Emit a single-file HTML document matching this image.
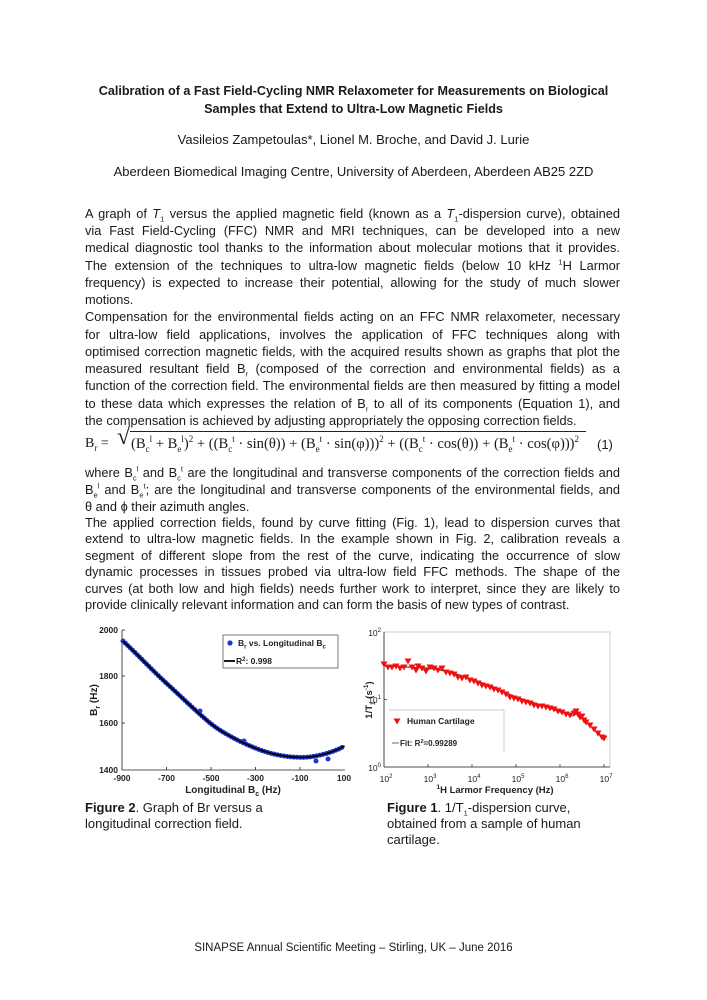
<!DOCTYPE html>
<html><head><meta charset="utf-8">
<style>
body{margin:0;background:#fff;}
#pg{position:relative;width:707px;height:1000px;overflow:hidden;font-family:"Liberation Sans",Arial,sans-serif;color:#1a1a1a;}
.c{position:absolute;left:0;width:707px;text-align:center;}
.t{font-weight:bold;font-size:12.6px;}
.l{position:absolute;left:85px;width:535px;font-size:12.8px;white-space:nowrap;line-height:16px;}
.j{text-align:justify;text-align-last:justify;white-space:normal;}
sub,sup{font-size:7.5px;line-height:0;}
.cap{position:absolute;font-size:13px;line-height:16px;}
.eq sub,.eq sup{font-size:9px;}
</style></head><body><div id="pg">
<div class="c t" style="top:84px">Calibration of a Fast Field-Cycling NMR Relaxometer for Measurements on Biological</div>
<div class="c t" style="top:102px">Samples that Extend to Ultra-Low Magnetic Fields</div>
<div class="c" style="top:132px;font-size:13px">Vasileios Zampetoulas*, Lionel M. Broche, and David J. Lurie</div>
<div class="c" style="top:164px;font-size:13px">Aberdeen Biomedical Imaging Centre, University of Aberdeen, Aberdeen AB25 2ZD</div>

<div class="l j" style="top:206px">A graph of <i>T</i><sub>1</sub> versus the applied magnetic field (known as a <i>T</i><sub>1</sub>-dispersion curve), obtained</div>
<div class="l j" style="top:223px">via Fast Field-Cycling (FFC) NMR and MRI techniques, can be developed into a new</div>
<div class="l j" style="top:240px">medical diagnostic tool thanks to the information about molecular motions that it provides.</div>
<div class="l j" style="top:258px">The extension of the techniques to ultra-low magnetic fields (below 10 kHz <sup>1</sup>H Larmor</div>
<div class="l j" style="top:275px">frequency) is expected to increase their potential, allowing for the study of much slower</div>
<div class="l" style="top:292px">motions.</div>
<div class="l j" style="top:309px">Compensation for the environmental fields acting on an FFC NMR relaxometer, necessary</div>
<div class="l j" style="top:327px">for ultra-low field applications, involves the application of FFC techniques along with</div>
<div class="l j" style="top:344px">optimised correction magnetic fields, with the acquired results shown as graphs that plot the</div>
<div class="l j" style="top:361px">measured resultant field B<sub>r</sub> (composed of the correction and environmental fields) as a</div>
<div class="l j" style="top:378px">function of the correction field. The environmental fields are then measured by fitting a model</div>
<div class="l j" style="top:396px">to these data which expresses the relation of B<sub>r</sub> to all of its components (Equation 1), and</div>
<div class="l" style="top:413px">the compensation is achieved by adjusting appropriately the opposing correction fields.</div>

<div class="eq" style="position:absolute;left:85px;top:436px;font-family:'Liberation Serif',serif;font-size:14px;white-space:nowrap;">B<sub>r</sub> =</div>
<div style="position:absolute;left:117px;top:424px;font-family:'Liberation Serif',serif;font-size:24px;">√</div>
<div style="position:absolute;left:130px;top:431px;width:456px;border-top:1px solid #222;"></div>
<div class="eq" style="position:absolute;left:131px;top:436px;font-family:'Liberation Serif',serif;font-size:14.6px;white-space:nowrap;">(B<sub>c</sub><sup>l</sup> + B<sub>e</sub><sup>l</sup>)<sup>2</sup> + ((B<sub>c</sub><sup>t</sup> · sin(θ)) + (B<sub>e</sub><sup>t</sup> · sin(φ)))<sup>2</sup> + ((B<sub>c</sub><sup>t</sup> · cos(θ)) + (B<sub>e</sub><sup>t</sup> · cos(φ)))<sup>2</sup></div>
<div style="position:absolute;left:597px;top:437px;font-size:13px;">(1)</div>

<div class="l j" style="top:465px">where B<sub>c</sub><sup>l</sup> and B<sub>c</sub><sup>t</sup> are the longitudinal and transverse components of the correction fields and</div>
<div class="l j" style="top:482px">B<sub>e</sub><sup>l</sup> and B<sub>e</sub><sup>t</sup>; are the longitudinal and transverse components of the environmental fields, and</div>
<div class="l" style="top:499px">θ and ϕ their azimuth angles.</div>
<div class="l j" style="top:515px">The applied correction fields, found by curve fitting (Fig. 1), lead to dispersion curves that</div>
<div class="l j" style="top:531px">extend to ultra-low magnetic fields. In the example shown in Fig. 2, calibration reveals a</div>
<div class="l j" style="top:548px">segment of different slope from the rest of the curve, indicating the occurrence of slow</div>
<div class="l j" style="top:564px">dynamic processes in tissues probed via ultra-low field FFC methods. The shape of the</div>
<div class="l j" style="top:581px">curves (at both low and high fields) needs further work to interpret, since they are likely to</div>
<div class="l" style="top:597px">provide clinically relevant information and can form the basis of new types of contrast.</div>

<svg width="707" height="1000" style="position:absolute;left:0;top:0" font-family="Liberation Sans, Arial, sans-serif" font-weight="bold" font-size="8.5">
<defs>
<marker id="tri" markerWidth="8" markerHeight="8" refX="4" refY="4" markerUnits="userSpaceOnUse"><path d="M0.5,1.5 L7.5,1.5 L4,7.5 Z" fill="#f01010"/></marker>
</defs>
<!-- Chart 1 -->
<line x1="122" y1="630" x2="122" y2="770" stroke="#222" stroke-width="0.8"/>
<line x1="122" y1="770" x2="345" y2="770" stroke="#222" stroke-width="0.8"/>
<g stroke="#222" stroke-width="0.8">
<line x1="122" y1="630" x2="125" y2="630"/><line x1="122" y1="676" x2="125" y2="676"/><line x1="122" y1="723" x2="125" y2="723"/>
<line x1="166.5" y1="770" x2="166.5" y2="767"/><line x1="211" y1="770" x2="211" y2="767"/><line x1="255.5" y1="770" x2="255.5" y2="767"/><line x1="300" y1="770" x2="300" y2="767"/>
</g>
<g text-anchor="end" fill="#222"><text x="118" y="633">2000</text><text x="118" y="679">1800</text><text x="118" y="726">1600</text><text x="118" y="773">1400</text></g>
<g text-anchor="middle" fill="#222"><text x="122" y="781">-900</text><text x="166.5" y="781">-700</text><text x="211" y="781">-500</text><text x="255.5" y="781">-300</text><text x="300" y="781">-100</text><text x="344" y="781">100</text></g>
<text x="233" y="793" text-anchor="middle" font-size="10" fill="#222">Longitudinal B<tspan font-size="7" dy="3">c</tspan><tspan dy="-3"> (Hz)</tspan></text>
<text transform="translate(97,700) rotate(-90)" text-anchor="middle" font-size="10" fill="#222">B<tspan font-size="7" dy="3">r</tspan><tspan dy="-3"> (Hz)</tspan></text>
<path d="M123,641 C137,654 152,670 166.5,683.3 S200,715 211,723.8 S240,742 255.5,748.2 S285,757 300,757.4 S335,752 344.5,745.9" fill="none" stroke="#1f35d0" stroke-width="5" stroke-linecap="round" stroke-dasharray="0 3.3"/>
<circle cx="316" cy="761" r="2.5" fill="#1f35d0"/><circle cx="328" cy="759" r="2.5" fill="#1f35d0"/><circle cx="244" cy="741" r="2.5" fill="#1f35d0"/><circle cx="200" cy="711" r="2.5" fill="#1f35d0"/>
<path d="M123,641 C137,654 152,670 166.5,683.3 S200,715 211,723.8 S240,742 255.5,748.2 S285,757 300,757.4 S335,752 344.5,745.9" fill="none" stroke="#000" stroke-width="1.8"/>
<rect x="223" y="635" width="115" height="33" fill="#fff" stroke="#444" stroke-width="0.7"/>
<circle cx="230" cy="643" r="2.6" fill="#1f35d0"/>
<text x="238" y="646" fill="#222">B<tspan font-size="6" dy="2.5">r</tspan><tspan dy="-2.5"> vs. Longitudinal B</tspan><tspan font-size="6" dy="2.5">c</tspan></text>
<line x1="224" y1="661" x2="235" y2="661" stroke="#000" stroke-width="1.8"/>
<text x="236" y="664" fill="#222">R<tspan font-size="6" dy="-3">2</tspan><tspan dy="3">: 0.998</tspan></text>

<!-- Chart 2 -->
<rect x="384" y="632" width="226" height="135" fill="none" stroke="#bbb" stroke-width="0.7"/>
<line x1="384" y1="632" x2="384" y2="767" stroke="#222" stroke-width="0.8"/>
<line x1="384" y1="767" x2="610" y2="767" stroke="#222" stroke-width="0.8"/>
<g stroke="#222" stroke-width="0.7"><line x1="428" y1="767" x2="428" y2="764"/><line x1="472" y1="767" x2="472" y2="764"/><line x1="516" y1="767" x2="516" y2="764"/><line x1="560" y1="767" x2="560" y2="764"/><line x1="604" y1="767" x2="604" y2="764"/><line x1="384" y1="699.5" x2="387" y2="699.5"/></g>
<g text-anchor="end" fill="#222" font-weight="normal"><text x="381" y="636">10<tspan font-size="6" dy="-4">2</tspan></text><text x="381" y="703">10<tspan font-size="6" dy="-4">1</tspan></text><text x="381" y="771">10<tspan font-size="6" dy="-4">0</tspan></text></g>
<g text-anchor="middle" fill="#222" font-weight="normal"><text x="386" y="782">10<tspan font-size="6" dy="-4">2</tspan></text><text x="430" y="782">10<tspan font-size="6" dy="-4">3</tspan></text><text x="474" y="782">10<tspan font-size="6" dy="-4">4</tspan></text><text x="518" y="782">10<tspan font-size="6" dy="-4">5</tspan></text><text x="562" y="782">10<tspan font-size="6" dy="-4">6</tspan></text><text x="606" y="782">10<tspan font-size="6" dy="-4">7</tspan></text></g>
<text x="495" y="793" text-anchor="middle" font-size="9.5" fill="#222"><tspan font-size="6.5" dy="-4">1</tspan><tspan dy="4">H Larmor Frequency (Hz)</tspan></text>
<text transform="translate(372,700) rotate(-90)" text-anchor="middle" font-size="9.5" fill="#222">1/T<tspan font-size="6.5" dy="3">1</tspan><tspan dy="-3"> (s</tspan><tspan font-size="6.5" dy="-4">-1</tspan><tspan dy="4">)</tspan></text>
<polyline points="384,666 406,667 428,668 450,672 472,679 494,687 516,697 538,704 560,712 573,716 578,713 581,716 587,723 604,738" fill="none" stroke="#333" stroke-width="1"/>
<polyline points="383,664 384,664 388,667 392,667 396,666 400,668 404,667 408,661 412,667 416,670 418,666 422,668 426,671 430,667 434,668 438,670 442,668 446,672 450,673 454,674 458,677 462,678 466,677 470,680 474,681 478,683 482,685 486,686 490,687 494,689 498,690 502,692 506,694 510,697 514,698 518,699 522,701 526,702 530,703 534,705 538,706 542,706 546,707 550,708 554,709 558,711 562,712 566,714 570,715 574,713 576,711 578,714 580,717 582,716 584,720 586,722 590,725 594,729 598,733 602,737 604,738 605,738" fill="none" stroke="none" marker-mid="url(#tri)"/>
<rect x="389" y="710" width="115" height="43" fill="#fff" stroke="none"/>
<line x1="389" y1="710" x2="504" y2="710" stroke="#bbb" stroke-width="0.7"/><line x1="504" y1="710" x2="504" y2="753" stroke="#bbb" stroke-width="0.7"/>
<path d="M393.5,718.5 L400.5,718.5 L397,724.5 Z" fill="#f01010"/>
<text x="407" y="724" fill="#222">Human Cartilage</text>
<line x1="392" y1="743" x2="399" y2="743" stroke="#666" stroke-width="1"/>
<text x="400" y="746" fill="#222" font-size="8">Fit: R<tspan font-size="5.5" dy="-3">2</tspan><tspan dy="3">=0.99289</tspan></text>
</svg>

<div class="cap" style="left:85px;top:800px"><b>Figure 2</b>. Graph of Br versus a</div>
<div class="cap" style="left:85px;top:816px">longitudinal correction field.</div>
<div class="cap" style="left:387px;top:800px"><b>Figure 1</b>. 1/T<sub>1</sub>-dispersion curve,</div>
<div class="cap" style="left:387px;top:816px">obtained from a sample of human</div>
<div class="cap" style="left:387px;top:832px">cartilage.</div>

<div class="c" style="top:942px;font-size:11.5px;font-family:'Liberation Sans',sans-serif;">SINAPSE Annual Scientific Meeting – Stirling, UK – June 2016</div>
</div></body></html>
